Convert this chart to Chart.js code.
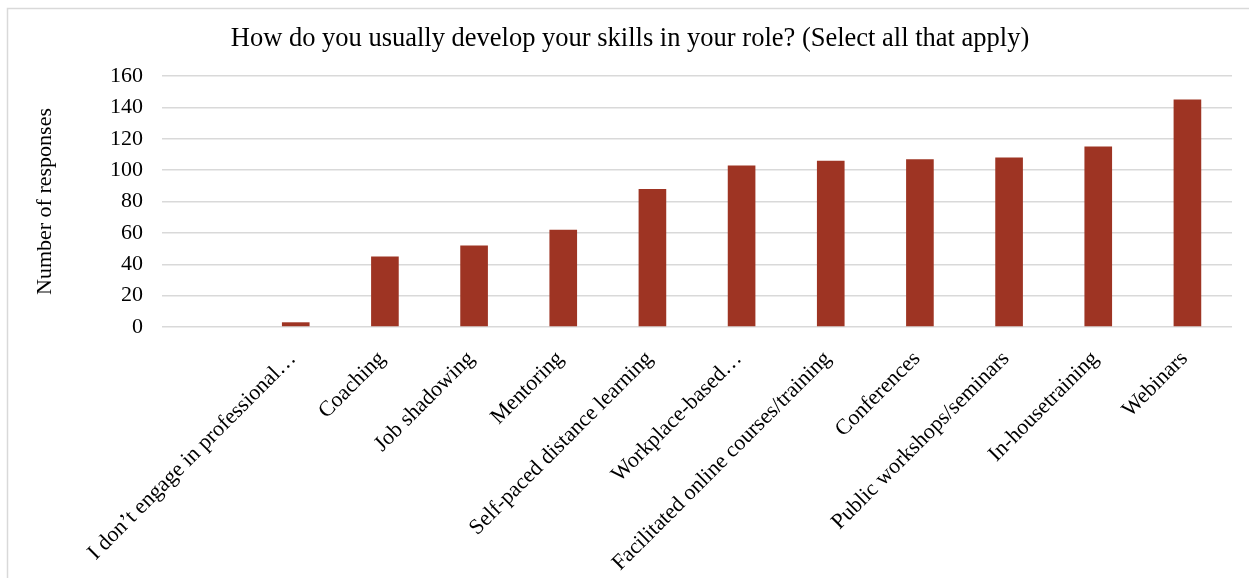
<!DOCTYPE html>
<html>
<head>
<meta charset="utf-8">
<script src="https://cdn.jsdelivr.net/npm/chart.js@4.4.1/dist/chart.umd.min.js"></script>
<style>
  html, body { margin: 0; padding: 0; background: #fff; }
  #skillsChart { display: block; }
</style>
</head>
<body>
<canvas id="skillsChart" width="1249" height="578"></canvas>
<script>
// --- data ---
const categories = [
    '',
    'I don\u2019t engage in professional\u2026',
    'Coaching',
    'Job shadowing',
    'Mentoring',
    'Self-paced distance learning',
    'Workplace-based\u2026',
    'Facilitated online courses/training',
    'Conferences',
    'Public workshops/seminars',
    'In-housetraining',
    'Webinars'
];
const responses = [null, 3, 45, 52, 62, 88, 103, 106, 107, 108, 115, 145];
const yTicks = [0, 20, 40, 60, 80, 100, 120, 140, 160];

const serif = "'Times New Roman', 'Liberation Serif', serif";

// thin frame along the top and left edge
const framePlugin = {
    id: 'frame',
    beforeDraw(chart) {
        const c = chart.ctx;
        c.save();
        c.fillStyle = '#fff';
        c.fillRect(0, 0, chart.width, chart.height);
        c.strokeStyle = '#d9d9d9';
        c.lineWidth = 1.5;
        c.beginPath();
        c.moveTo(7.5, chart.height);
        c.lineTo(7.5, 8.5);
        c.lineTo(chart.width, 8.5);
        c.stroke();
        c.restore();
    }
};

const ctx = document.getElementById('skillsChart').getContext('2d');
new Chart(ctx, {
    type: 'bar',
    data: {
        labels: categories,
        datasets: [{
            data: responses,
            backgroundColor: '#9e3423',
            borderWidth: 0,
            barPercentage: 0.31,
            categoryPercentage: 1
        }]
    },
    options: {
        responsive: false,
        devicePixelRatio: 1,
        animation: false,
        layout: { padding: { left: 28, right: 17, top: 0, bottom: 0 } },
        plugins: {
            legend: { display: false },
            tooltip: { enabled: false },
            title: {
                display: true,
                text: 'How do you usually develop your skills in your role? (Select all that apply)',
                color: '#000',
                font: { family: serif, size: 26.5, weight: 'normal', lineHeight: 1.2 },
                padding: { top: 23.5, bottom: 20.7 }
            }
        },
        scales: {
            x: {
                grid: { display: false },
                border: { display: false },
                ticks: {
                    color: '#000',
                    font: { family: serif, size: 22 },
                    maxRotation: 45,
                    minRotation: 45,
                    autoSkip: false,
                    padding: 11,
                    labelOffset: -3
                },
                afterFit(scale) { scale.height = 251; }
            },
            y: {
                min: 0,
                max: 160,
                afterBuildTicks(scale) { scale.ticks = yTicks.map(v => ({ value: v })); },
                grid: { color: '#d9d9d9', lineWidth: 1.5, drawTicks: false },
                border: { display: false },
                ticks: {
                    color: '#000',
                    font: { family: serif, size: 22 },
                    padding: 19
                },
                title: {
                    display: true,
                    text: 'Number of responses',
                    color: '#000',
                    font: { family: serif, size: 22, lineHeight: 1.2 },
                    padding: { top: 4, bottom: 0 }
                },
                afterFit(scale) { scale.width = 134; }
            }
        }
    },
    plugins: [framePlugin]
});
</script>
</body>
</html>
